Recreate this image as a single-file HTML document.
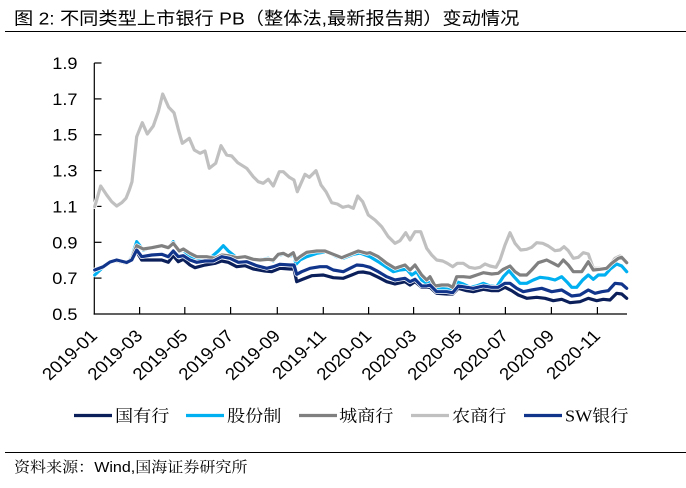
<!DOCTYPE html>
<html>
<head>
<meta charset="utf-8">
<style>
  html, body { margin:0; padding:0; background:#fff; }
  body { width:686px; height:488px; overflow:hidden; }
  svg { display:block; }
</style>
</head>
<body>
<svg width="686" height="488" viewBox="0 0 686 488" xmlns="http://www.w3.org/2000/svg">
  <rect width="686" height="488" fill="#fff"/>

  <!-- Title -->
  <text transform="translate(14,24.5) scale(1.1,1)" font-family="Liberation Sans, Noto Sans CJK SC, sans-serif" font-size="17.5" fill="#000">图 2:  不同类型上市银行 PB（整体法,最新报告期）变动情况</text>
  <line x1="5" y1="31.5" x2="686" y2="31.5" stroke="#000" stroke-width="1"/>

  <!-- Y axis labels -->
  <g font-family="Liberation Sans, Arial, sans-serif" font-size="16.5" fill="#000" text-anchor="end">
    <text transform="translate(77.5,69) scale(1.1,1)">1.9</text>
    <text transform="translate(77.5,104.9) scale(1.1,1)">1.7</text>
    <text transform="translate(77.5,140.7) scale(1.1,1)">1.5</text>
    <text transform="translate(77.5,176.6) scale(1.1,1)">1.3</text>
    <text transform="translate(77.5,212.4) scale(1.1,1)">1.1</text>
    <text transform="translate(77.5,248.3) scale(1.1,1)">0.9</text>
    <text transform="translate(77.5,284.1) scale(1.1,1)">0.7</text>
    <text transform="translate(77.5,320) scale(1.1,1)">0.5</text>
  </g>

  <!-- Axes -->
  <g stroke="#000" stroke-width="1.2" fill="none">
    <line x1="94.3" y1="63" x2="94.3" y2="314.6"/>
    <line x1="93.7" y1="314" x2="627" y2="314"/>
    <line x1="94.3" y1="63" x2="101.5" y2="63"/>
    <line x1="94.3" y1="98.9" x2="101.5" y2="98.9"/>
    <line x1="94.3" y1="134.7" x2="101.5" y2="134.7"/>
    <line x1="94.3" y1="170.6" x2="101.5" y2="170.6"/>
    <line x1="94.3" y1="206.4" x2="101.5" y2="206.4"/>
    <line x1="94.3" y1="242.3" x2="101.5" y2="242.3"/>
    <line x1="94.3" y1="278.1" x2="101.5" y2="278.1"/>
    <line x1="139.6" y1="314" x2="139.6" y2="307"/>
    <line x1="184.8" y1="314" x2="184.8" y2="307"/>
    <line x1="230.6" y1="314" x2="230.6" y2="307"/>
    <line x1="277.3" y1="314" x2="277.3" y2="307"/>
    <line x1="323.3" y1="314" x2="323.3" y2="307"/>
    <line x1="368.6" y1="314" x2="368.6" y2="307"/>
    <line x1="413.6" y1="314" x2="413.6" y2="307"/>
    <line x1="459.5" y1="314" x2="459.5" y2="307"/>
    <line x1="505.4" y1="314" x2="505.4" y2="307"/>
    <line x1="551.4" y1="314" x2="551.4" y2="307"/>
    <line x1="597.4" y1="314" x2="597.4" y2="307"/>
  </g>

  <!-- X labels -->
  <g font-family="Liberation Sans, Arial, sans-serif" font-size="17" fill="#000" text-anchor="end">
    <text transform="translate(98.3,337) scale(1.1,1) rotate(-45)">2019-01</text>
    <text transform="translate(143.6,337) scale(1.1,1) rotate(-45)">2019-03</text>
    <text transform="translate(188.8,337) scale(1.1,1) rotate(-45)">2019-05</text>
    <text transform="translate(234.6,337) scale(1.1,1) rotate(-45)">2019-07</text>
    <text transform="translate(281.3,337) scale(1.1,1) rotate(-45)">2019-09</text>
    <text transform="translate(327.3,337) scale(1.1,1) rotate(-45)">2019-11</text>
    <text transform="translate(372.6,337) scale(1.1,1) rotate(-45)">2020-01</text>
    <text transform="translate(417.6,337) scale(1.1,1) rotate(-45)">2020-03</text>
    <text transform="translate(463.5,337) scale(1.1,1) rotate(-45)">2020-05</text>
    <text transform="translate(509.4,337) scale(1.1,1) rotate(-45)">2020-07</text>
    <text transform="translate(555.4,337) scale(1.1,1) rotate(-45)">2020-09</text>
    <text transform="translate(601.4,337) scale(1.1,1) rotate(-45)">2020-11</text>
  </g>

  <defs>
    <polyline id="s_nong" points="94.7,206.7 100.7,186 106.7,195 111.7,201.7 116.7,206 121.7,202.7 126,198.3 129.3,190 132,181.7 136.7,136.7 142.3,122.7 147.3,134 153.3,126 158.3,111.7 162.7,94 168.7,107.3 174,112.7 178.3,129.3 182.3,143.3 189.3,138.3 194.3,150 200,153.3 205,151 209.3,168.3 215.7,163.3 221,145.7 226.7,155 231.7,156 237.7,162.7 246.7,168.3 253.3,176.7 258.3,181.7 263.3,183.3 268.3,179.3 273.3,186 279.3,171.7 283.3,171.7 289.3,177.3 294,180 297.3,191.7 305,174.3 309.3,177.3 316,170.7 321,185 326,191.7 331.7,202.7 337.3,204 342.7,207.3 348.3,206 353.3,208.3 357.7,196 362.7,201.7 368.3,215 375,220 381.7,226.7 388.3,236.7 395,243.3 400,240.7 405.7,232.7 410,240 415,231.7 420.7,231.7 426.7,248.3 431.7,255 436.7,260 442.7,261 447.3,263.3 452.7,266.7 457.3,263.3 463.3,263.3 469.3,267.3 475,268.3 480,267.3 485,264 490,266 496,267.3 500,260 505,245 510,232.7 515,243.3 520.7,250 526.7,249.3 531.7,247.3 536.7,242.7 542.7,243.3 548.3,246 555,250.7 560,250 564,246.7 568.3,250.7 573.3,258.3 578.3,257.3 583.3,252.7 588.3,254 593.3,268.3 599.3,268.3 605,269.3 610,265 615,258.3 620,256 625,260"/>
    <polyline id="s_cheng" points="94.7,270 103.3,266.5 110,262 116.7,261 126.7,263.3 131.7,258.3 136.7,245.7 143.3,249 151.7,247.7 161.7,245.7 168.3,247.7 173.3,243.3 179.3,251 183.3,249 190,253.3 196.7,256.7 206.7,256.7 215,258.3 221.7,255 228.3,255.7 236.7,257.7 245,256.7 253.3,259.3 260,260 268.3,259.3 273.3,260 278.3,254.3 283.3,253.3 288.3,256 293.3,252.7 296,260 300,256.7 306.7,252.3 316.7,251 325,251 333.3,254.3 341.7,257.7 350,254.3 358.3,251 366.7,253.3 370,252.7 378.3,256.7 386.7,263.3 395,268.3 405,265 410,270 415,265 421.7,275 426.7,280 430,276.7 435,286 441.7,285 448.3,285 452.7,287.3 456.7,276.7 463.3,276.7 470,277.3 476.7,275 483.3,272.7 491.7,274 498.3,273.3 503.3,269.3 510,266 515,271.7 520,275 526.7,275 531.7,270 538.3,262.7 546.7,260 553.3,263.3 558.3,266 563.3,260 568.3,265 573.3,271.7 581.7,271.7 588.3,261.7 593.3,270 600,269.3 606.7,268.3 611.7,263.3 618.3,258.3 621.7,257.3 626.7,262.7"/>
    <polyline id="s_gufen" points="94.7,275 103.3,267 110,262 116.7,261 126.7,263 131.7,257 136.7,241.7 143.3,250 151.7,247.7 161.7,246 168.3,248 173.3,241.7 179.3,251.7 183.3,250 190,256.7 200,258.3 211.7,256.7 218.3,251 223.3,245.7 228.3,251 236.7,257.7 246.7,256.7 256.7,260 268.3,258.3 273.3,261 278.3,255 283.3,254.3 290,256 294,255 296,264.3 300,260 306.7,256.7 316.7,253.3 326.7,251.7 336.7,256.7 343.3,258.3 353.3,254.3 360,253 370,256.7 378.3,261.7 386.7,267.3 393.3,271.7 400,270 406.7,269.3 411.7,275 416.7,271.7 421.7,280 426.7,283.3 430,281.7 435,288.3 441.7,288.3 448.3,289.3 453.3,290 456.7,281.7 463.3,284 470,287.3 476.7,286 483.3,283.3 490,286 496.7,286.7 503.3,276.7 509,270.7 514,276.7 520,283.3 526.7,283.3 533.3,280 540,277.3 548.3,278.3 555,280 561.7,276.7 566.7,281.7 571.7,287.3 576.7,287.3 582.7,280 588.3,275 593.3,279.3 598.3,275 605,275 610,269.3 616.7,264 621.7,266 626.7,271.7"/>
    <polyline id="s_sw" points="94.7,270 103.3,266.7 110,262 116.7,260 126.7,262.5 131.7,260 136.7,250 141.7,256.7 151.7,255 161.7,254.3 168.3,256.7 173.3,251 178.3,256.7 183.3,255.7 190,260 196.7,262.3 205,261 213.3,261 221.7,256.7 230,258.3 238.3,262.3 246.7,261.7 256.7,265.7 266.7,268.3 273.3,266.7 280,264.3 290,265 294,265 296.7,274.3 301.7,271.7 310,268.3 320,266.7 326.7,266.7 333.3,270 343.3,271.7 350,268.3 356.7,265 363,265.5 370,267.3 378.3,271.7 386.7,276.7 395,280 405,278.3 410,281.7 415,279.3 421.7,286 426.7,286 430,285 436.7,291.7 446.7,291.7 452.7,292.7 458.3,286 466.7,287.3 473.3,288.3 483.3,286 491.7,287.3 498.3,287.3 505,283.3 510,283.3 516.7,288.3 523.3,291.7 531.7,290 541.7,288.3 551.7,291.7 561.7,290 571.7,296 580,295 588.3,290 595,293.3 601.7,291.7 608.3,290.7 615,283.3 621.7,284 626.7,288.3"/>
    <polyline id="s_guo" points="94.7,270 103.3,266.7 110,262 116.7,260 126.7,262.5 131.7,260 136.7,251.7 141.7,260 151.7,260 161.7,260 168.3,262.3 173.3,255.7 178.3,261.7 183.3,259.3 190,265 195,267.7 205,265 215,263.3 221.7,261 228.3,262.3 236.7,266.7 245,265.7 253.3,269 265,271 271.7,271.7 280,268.3 290,269 294,269 296.7,281.7 303.3,279 311.7,275.7 323.3,275 333.3,277.7 343.3,278.3 351.7,275 358.3,272.3 363,272 370,273.3 378.3,277.3 386.7,281.7 395,284 405,281.7 410,285 415,281.7 421.7,287.3 430,287.3 436.7,293.3 446.7,294 452.7,294 458.3,288.3 466.7,290.7 473.3,291.7 483.3,289.3 491.7,290.7 498.3,290.7 505,287.3 511.7,290.7 518.3,295 526.7,298.3 536.7,297.3 545,298.3 553.3,300.7 561.7,299.3 570,302.7 580,301.7 588.3,298.3 596.7,300.7 603.3,299.3 610,300 616.7,293.3 621.7,294 626.7,298.3"/>
  </defs>

  <!-- Series -->
  <g fill="none" stroke-linejoin="round" stroke-linecap="round">
    <use href="#s_nong" stroke="#fff" stroke-width="4.6"/>
    <use href="#s_nong" stroke="#c0c0c0" stroke-width="3.2"/>
    <use href="#s_gufen" stroke="#fff" stroke-width="4.6"/>
    <use href="#s_gufen" stroke="#00b0f0" stroke-width="3.2"/>
    <use href="#s_cheng" stroke="#fff" stroke-width="4.6"/>
    <use href="#s_cheng" stroke="#808080" stroke-width="3.2"/>
    <use href="#s_guo" stroke="#fff" stroke-width="4.6"/>
    <use href="#s_guo" stroke="#0b1f5a" stroke-width="3.2"/>
    <use href="#s_sw" stroke="#fff" stroke-width="4.6"/>
    <use href="#s_sw" stroke="#12358c" stroke-width="3.2"/>
  </g>

  <!-- Legend -->
  <g stroke-width="3.2" stroke-linecap="butt">
    <line x1="74" y1="415.5" x2="112" y2="415.5" stroke="#0b1f5a"/>
    <line x1="186" y1="415.5" x2="224" y2="415.5" stroke="#00b0f0"/>
    <line x1="299" y1="415.5" x2="337" y2="415.5" stroke="#808080"/>
    <line x1="411" y1="415.5" x2="449" y2="415.5" stroke="#c0c0c0"/>
    <line x1="524" y1="415.5" x2="562" y2="415.5" stroke="#12358c"/>
  </g>
  <g font-family="Liberation Serif, Noto Serif CJK SC, serif" font-size="16.5" fill="#000">
    <text transform="translate(115,421.5) scale(1.1,1)">国有行</text>
    <text transform="translate(227,421.5) scale(1.1,1)">股份制</text>
    <text transform="translate(339,421.5) scale(1.1,1)">城商行</text>
    <text transform="translate(452,421.5) scale(1.1,1)">农商行</text>
    <text transform="translate(565,421.5) scale(1.1,1)">SW银行</text>
  </g>

  <!-- Footer -->
  <line x1="5" y1="452.5" x2="686" y2="452.5" stroke="#000" stroke-width="1"/>
  <text transform="translate(14,472) scale(1.1,1)" font-family="Liberation Sans, Noto Serif CJK SC, serif" font-size="14.6" fill="#000">资料来源：Wind,国海证券研究所</text>
</svg>
</body>
</html>
